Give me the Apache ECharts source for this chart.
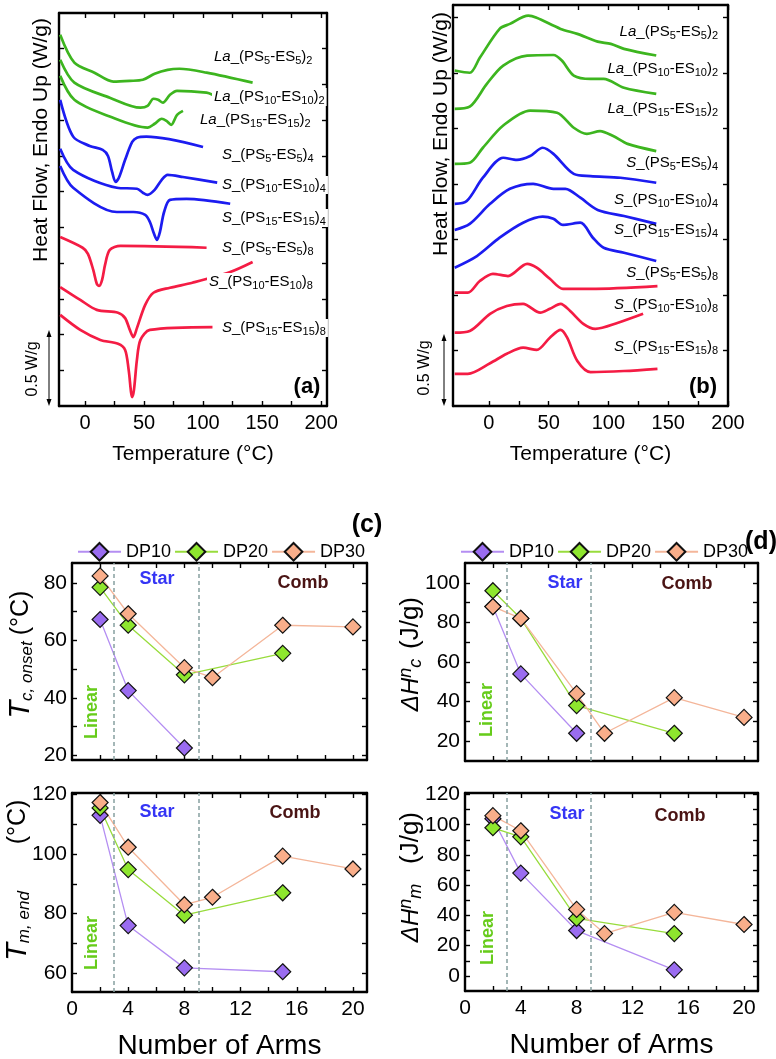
<!DOCTYPE html>
<html>
<head>
<meta charset="utf-8">
<script src="https://cdn.jsdelivr.net/npm/echarts@6/dist/echarts.min.js"></script>
<style>
html, body { margin: 0; padding: 0; background: #fff; }
#chart { width: 776px; height: 1059px; }
</style>
</head>
<body>
<div id="chart"></div>
<script>
// ---- DSC curves, panel (a) cooling: [T (°C), heat flow offset (tick units)]
var aLa5 = [[-21,10.39],[-9,9.61],[8,9.33],[24,9.08],[38,9.10],[49,9.13],[59,9.30],[70,9.41],[80,9.44],[103,9.33],[142,9.05]];
var aLa10 = [[-21,9.69],[-9,9.05],[21,8.63],[47,8.35],[53,8.40],[58,8.60],[62,8.57],[66,8.49],[72,8.71],[78,8.82],[103,8.77],[108,8.71]];
var aLa15 = [[-21,9.24],[-9,8.57],[21,8.10],[53,7.79],[59,7.90],[65,8.04],[69,7.98],[73,7.87],[78,8.15],[83,8.26]];
var aS5x4 = [[-21,8.57],[-10,7.54],[4,7.28],[15,7.17],[19.5,7.0],[23,6.55],[26,6.27],[29,6.41],[34,6.89],[40,7.39],[44,7.51],[52,7.54],[100,7.25]];
var aS10x4 = [[-21,7.20],[-10,6.61],[27,6.11],[44,6.08],[49,5.97],[53,5.91],[59,6.05],[65,6.33],[70,6.47],[83,6.41],[112,6.25]];
var aS15x4 = [[-21,6.72],[-10,6.11],[27,5.43],[41,5.43],[51,5.35],[55,5.15],[58.5,4.82],[61,4.65],[63.5,4.87],[67,5.43],[72,5.77],[86,5.80],[123,5.66]];
var aS5x8 = [[-21,4.73],[-2,4.43],[2.5,4.26],[7,3.81],[10,3.42],[12,3.36],[14.5,3.53],[17,3.95],[21,4.37],[30,4.48],[103,4.43]];
var aS10x8 = [[-21,3.33],[-4,2.97],[10,2.69],[28,2.61],[34,2.46],[38,2.13],[41,1.93],[44,2.18],[51,2.83],[58,3.17],[72,3.31],[91,3.45],[123,3.75],[142,4.03]];
var aS15x8 = [[-21,2.55],[-4,2.13],[13,1.85],[28,1.74],[34,1.57],[37,1.01],[40,0.25],[41.5,0.45],[44,1.29],[47,1.85],[55,2.13],[108,2.21]];

// ---- DSC curves, panel (b) heating
var bLa5 = [[-28.6,6.04],[-16,6.0],[-7.6,6.27],[9,6.79],[17.6,6.88],[33,7.03],[40,6.99],[60,6.79],[74,6.70],[91,6.56],[102,6.52],[113,6.43],[140,6.31]];
var bLa10 = [[-28.6,5.35],[-16,5.39],[-1.7,5.80],[12,6.13],[32,6.31],[54,6.32],[61,6.22],[71,5.95],[85,5.89],[96,5.89],[113,5.73],[140,5.62]];
var bLa15 = [[-28.6,4.36],[-16,4.38],[-5,4.65],[12,5.05],[34.5,5.32],[57,5.28],[71,5.01],[82,4.90],[93,4.95],[104,4.86],[116,4.72],[140,4.59]];
var bS5x4 = [[-28.6,3.64],[-18.5,3.69],[-5,4.11],[12,4.47],[23.5,4.43],[34.5,4.50],[45,4.65],[54,4.54],[71,4.18],[85,4.14],[110,4.11],[140,4.02]];
var bS10x4 = [[-28.6,3.17],[-16,3.28],[1,3.64],[17.6,3.91],[37,4.0],[54,3.91],[64,3.91],[76.5,3.75],[91,3.53],[113,3.42],[140,3.28]];
var bS15x4 = [[-28.6,2.49],[-10,2.70],[9,3.03],[28.6,3.30],[45,3.41],[54,3.37],[62,3.26],[76.5,3.30],[87,3.03],[96,2.85],[113,2.76],[140,2.61]];
var bS5x8 = [[-28.6,2.04],[-17.6,2.04],[-7.6,2.25],[3.4,2.38],[16,2.34],[32,2.56],[40,2.49],[51,2.29],[62,2.11],[85,2.11],[141,2.16]];
var bS10x8 = [[-28.6,1.32],[-16,1.35],[1,1.66],[15,1.80],[28.6,1.84],[43,1.68],[51,1.75],[60,1.84],[68,1.71],[79,1.48],[89,1.39],[108,1.50],[129,1.66]];
var bS15x8 = [[-28.6,0.58],[-17.6,0.58],[1,0.77],[15,0.94],[28.6,1.05],[40,1.01],[51,1.23],[60,1.37],[65.5,1.23],[74,0.81],[85,0.61],[113,0.63],[141,0.67]];

// sample names: [prefix, DP of each block, number of arms]
var sampleNames = [['La','5','2'],['La','10','2'],['La','15','2'],['S','5','4'],['S','10','4'],['S','15','4'],['S','5','8'],['S','10','8'],['S','15','8']];

// ---- panels (c) and (d)
var arms3 = [2, 4, 8];
var arms4 = [2, 4, 8, 15];
var arms6 = [2, 4, 8, 10, 15, 20];

var tcDP10 = [67.3, 42.5, 22.5];
var tcDP20 = [78.5, 65.3, 48.0, 55.5];
var tcDP30 = [82.5, 69.3, 50.5, 47.0, 65.3, 64.7];
var tmDP10 = [113.0, 76.0, 61.8, 60.5];
var tmDP20 = [115.5, 94.8, 79.5, 87.0];
var tmDP30 = [117.3, 102.3, 83.0, 85.5, 99.3, 95.0];
var hcDP10 = [88, 54, 24];
var hcDP20 = [96, 82, 38, 24];
var hcDP30 = [88, 82, 44, 24, 42, 32];
var hmDP10 = [104, 68, 30, 4];
var hmDP20 = [98, 92, 38, 28];
var hmDP30 = [106, 96, 44, 28, 42, 34];

var tempTicks = [0, 25, 50, 75, 100, 125, 150, 175, 200];
var tempLabels = [0, 50, 100, 150, 200];
var armTicks = [2, 4, 6, 8, 10, 12, 14, 16, 18, 20];
var armLabels = [0, 4, 8, 12, 16, 20];

var FONT = '"Liberation Sans", Arial, sans-serif';
var GREEN = '#3db51f', BLUE = '#1c1cf0', RED = '#f41c44';
var C10 = ['#9a6cf0', '#b48ef2'], C20 = ['#8ee62e', '#98dc3c'], C30 = ['#f9ae8a', '#f4b69a'];

var chart = echarts.init(document.getElementById('chart'));

var grids = [], xAxes = [], yAxes = [], series = [], graphics = [];

function addGrid(box) {
    grids.push(Object.assign({show: false, containLabel: false, outerBoundsMode: 'none'}, box));
    return grids.length - 1;
}

function axis(gi, pos, min, max, ticks, labels, fs, margin) {
    return {
        type: 'value', gridIndex: gi, position: pos, min: min, max: max,
        axisLine: {show: true, onZero: false, lineStyle: {color: '#000', width: 2.4}},
        axisTick: {show: true, inside: true, length: 5, customValues: ticks, lineStyle: {color: '#000', width: 1.4}},
        axisLabel: {show: !!labels, customValues: labels || undefined, color: '#000', fontSize: fs, fontFamily: FONT, margin: margin},
        splitLine: {show: false}
    };
}

// box with ticks on all 4 sides
function frame(gi, xr, yr, xt, xl, yt, yl, fs, xm, ym) {
    xAxes.push(axis(gi, 'bottom', xr[0], xr[1], xt, xl, fs, xm));
    var xi = xAxes.length - 1;
    xAxes.push(axis(gi, 'top', xr[0], xr[1], xt, null, fs, xm));
    yAxes.push(axis(gi, 'left', yr[0], yr[1], yt, yl, fs, ym));
    var yi = yAxes.length - 1;
    yAxes.push(axis(gi, 'right', yr[0], yr[1], yt, null, fs, ym));
    return {x: xi, y: yi};
}

function xName(ax, text, gap, fs) {
    Object.assign(xAxes[ax.x], {
        name: text, nameLocation: 'middle', nameGap: gap,
        nameTextStyle: {color: '#000', fontSize: fs, fontFamily: FONT}
    });
}

function curve(ax, data, color) {
    series.push({
        type: 'line', xAxisIndex: ax.x, yAxisIndex: ax.y, data: data,
        symbol: 'none', smooth: 0.3, silent: true,
        lineStyle: {color: color, width: 2.7}
    });
}

function zip(xs, ys) {
    return ys.map(function(v, i) { return [xs[i], v]; });
}

function dp(ax, name, arms, vals, col, guides) {
    var s = {
        type: 'line', name: name, xAxisIndex: ax.x, yAxisIndex: ax.y,
        data: zip(arms, vals), symbol: 'diamond', symbolSize: 16,
        itemStyle: {color: col[0], borderColor: '#111', borderWidth: 1.2},
        lineStyle: {color: col[1], width: 1.3}
    };
    if (guides) {
        s.markLine = {
            silent: true, symbol: 'none', label: {show: false},
            lineStyle: {type: [4, 3], color: '#86a0a0', width: 1.5},
            data: [{xAxis: 3}, {xAxis: 9}]
        };
    }
    series.push(s);
}

function text(x, y, str, style, rot) {
    var st = Object.assign({
        text: str, fill: '#000', fontFamily: FONT, fontSize: 15,
        align: 'center', verticalAlign: 'middle', textAlign: 'center', textVerticalAlign: 'middle'
    }, style || {});
    graphics.push({type: 'text', x: x, y: y, rotation: rot || 0, z: 100, silent: true, style: st});
}

function sampleLabel(x, y, s, align, bg) {
    var str = '{it|' + s[0] + '}_(PS{sub|' + s[1] + '}-ES{sub|' + s[1] + '}){sub|' + s[2] + '}';
    text(x, y, str, {
        fontSize: 15, lineHeight: 18, align: align, textAlign: align,
        backgroundColor: bg ? '#fff' : undefined, padding: bg ? [0, 2] : 0,
        rich: {
            it: {fontFamily: FONT, fontSize: 15, fontStyle: 'italic', lineHeight: 18},
            sub: {fontFamily: FONT, fontSize: 11, lineHeight: 7, verticalAlign: 'bottom'}
        }
    });
}

function scaleBar(x, y1, y2, tx, ty) {
    graphics.push({type: 'line', z: 100, silent: true, shape: {x1: x, y1: y1 + 3, x2: x, y2: y2 - 3}, style: {stroke: '#000', lineWidth: 1}});
    graphics.push({type: 'polygon', z: 100, silent: true, shape: {points: [[x, y1], [x - 2.5, y1 + 7], [x + 2.5, y1 + 7]]}, style: {fill: '#000'}});
    graphics.push({type: 'polygon', z: 100, silent: true, shape: {points: [[x, y2], [x - 2.5, y2 - 7], [x + 2.5, y2 - 7]]}, style: {fill: '#000'}});
    text(tx, ty, '0.5 W/g', {fontSize: 16}, Math.PI / 2);
}

// ---------- (a) ----------
var pa = frame(addGrid({left: 59, top: 13, width: 268, height: 393}), [-22, 205], [0, 11],
    tempTicks, tempLabels, [1, 2, 3, 4, 5, 6, 7, 8, 9, 10], null, 20, 7, 0);
xName(pa, 'Temperature (°C)', 38, 21);
[aLa5, aLa10, aLa15].forEach(function(d) { curve(pa, d, GREEN); });
[aS5x4, aS10x4, aS15x4].forEach(function(d) { curve(pa, d, BLUE); });
[aS5x8, aS10x8, aS15x8].forEach(function(d) { curve(pa, d, RED); });

// ---------- (b) ----------
var pb = frame(addGrid({left: 453, top: 5, width: 275, height: 401}), [-30, 200], [0, 7.22],
    tempTicks, tempLabels, [1, 2, 3, 4, 5, 6, 7], null, 20, 7, 0);
xName(pb, 'Temperature (°C)', 38, 21);
[bLa5, bLa10, bLa15].forEach(function(d) { curve(pb, d, GREEN); });
[bS5x4, bS10x4, bS15x4].forEach(function(d) { curve(pb, d, BLUE); });
[bS5x8, bS10x8, bS15x8].forEach(function(d) { curve(pb, d, RED); });

var aPos = [[212, 57], [212, 97], [198, 120], [220, 155], [220, 185], [220, 218], [220, 248], [207, 282], [220, 328]];
var bPos = [[718, 32], [718, 69], [718, 109], [718, 163], [718, 200], [718, 230], [718, 273], [718, 305], [718, 347]];
sampleNames.forEach(function(s, i) {
    sampleLabel(aPos[i][0], aPos[i][1], s, 'left', true);
    sampleLabel(bPos[i][0], bPos[i][1], s, 'right', false);
});

text(41, 140, 'Heat Flow, Endo Up (W/g)', {fontSize: 21}, Math.PI / 2);
text(441, 134, 'Heat Flow, Endo Up (W/g)', {fontSize: 21}, Math.PI / 2);
scaleBar(49, 330, 406, 33, 369);
scaleBar(444, 334, 406, 425, 368);
text(307, 387, '(a)', {fontSize: 22, fontWeight: 'bold'});
text(703, 387, '(b)', {fontSize: 22, fontWeight: 'bold'});

// ---------- (c) and (d) ----------
var pcTop = frame(addGrid({left: 72, top: 563, width: 295, height: 197}), [0, 21], [18.3, 87],
    armTicks, null, [20, 30, 40, 50, 60, 70, 80], [20, 40, 60, 80], 21, 7, 5);
var pcBot = frame(addGrid({left: 72, top: 793, width: 295, height: 199}), [0, 21], [53.7, 120.5],
    armTicks, armLabels, [60, 70, 80, 90, 100, 110, 120], [60, 80, 100, 120], 21, 7, 5);
var pdTop = frame(addGrid({left: 465, top: 563, width: 293, height: 198}), [0, 21], [10, 110],
    armTicks, null, [20, 30, 40, 50, 60, 70, 80, 90, 100], [20, 40, 60, 80, 100], 21, 7, 5);
var pdBot = frame(addGrid({left: 465, top: 793, width: 293, height: 198}), [0, 21], [-10, 121],
    armTicks, armLabels, [0, 10, 20, 30, 40, 50, 60, 70, 80, 90, 100, 110, 120], [0, 20, 40, 60, 80, 100, 120], 21, 7, 5);
xName(pcBot, 'Number of Arms', 40, 28);
xName(pdBot, 'Number of Arms', 40, 28);

dp(pcTop, 'DP10', arms3, tcDP10, C10, true);
dp(pcTop, 'DP20', arms4, tcDP20, C20);
dp(pcTop, 'DP30', arms6, tcDP30, C30);
dp(pcBot, 'DP10', arms4, tmDP10, C10, true);
dp(pcBot, 'DP20', arms4, tmDP20, C20);
dp(pcBot, 'DP30', arms6, tmDP30, C30);
dp(pdTop, 'DP10', arms3, hcDP10, C10, true);
dp(pdTop, 'DP20', arms4, hcDP20, C20);
dp(pdTop, 'DP30', arms6, hcDP30, C30);
dp(pdBot, 'DP10', arms4, hmDP10, C10, true);
dp(pdBot, 'DP20', arms4, hmDP20, C20);
dp(pdBot, 'DP30', arms6, hmDP30, C30);

// region tags
var starStyle = {fontSize: 18, fontWeight: 'bold', fill: '#3535f5'};
var combStyle = {fontSize: 18, fontWeight: 'bold', fill: '#4a1414'};
var linStyle = {fontSize: 18, fontWeight: 'bold', fill: '#66cc1a'};
[[157, 579, 303, 583, 92, 712], [157, 812, 295, 813, 92, 943], [565, 583, 687, 584, 487, 710], [567, 814, 680, 816, 488, 938]].forEach(function(p) {
    text(p[0], p[1], 'Star', starStyle);
    text(p[2], p[3], 'Comb', combStyle);
    text(p[4], p[5], 'Linear', linStyle, Math.PI / 2);
});

// y titles of (c) and (d)
var tRich = {
    T: {fontFamily: FONT, fontSize: 29, fontStyle: 'italic', lineHeight: 30},
    s: {fontFamily: FONT, fontSize: 17, fontStyle: 'italic', lineHeight: 10, verticalAlign: 'bottom'}
};
var hRich = {
    D: {fontFamily: FONT, fontSize: 24, fontStyle: 'italic', lineHeight: 28},
    p: {fontFamily: FONT, fontSize: 18, fontStyle: 'italic', lineHeight: 10, verticalAlign: 'top'},
    s: {fontFamily: FONT, fontSize: 18, fontStyle: 'italic', lineHeight: 8, verticalAlign: 'bottom'}
};
text(21, 680, '{T|T}{s|c, onset}', {fontSize: 25, lineHeight: 30, rich: tRich}, Math.PI / 2);
text(21, 613, '(°C)', {fontSize: 25}, Math.PI / 2);
text(18, 926, '{T|T}{s|m, end}', {fontSize: 25, lineHeight: 30, rich: tRich}, Math.PI / 2);
text(18, 822, '(°C)', {fontSize: 25}, Math.PI / 2);
text(411, 685, '{D|ΔH}{p|n}{s|c}', {fontSize: 24, lineHeight: 28, rich: hRich}, Math.PI / 2);
text(411, 623, '(J/g)', {fontSize: 26}, Math.PI / 2);
text(411, 913, '{D|ΔH}{p|n}{s|m}', {fontSize: 24, lineHeight: 28, rich: hRich}, Math.PI / 2);
text(411, 838, '(J/g)', {fontSize: 26}, Math.PI / 2);

text(367, 525, '(c)', {fontSize: 25, fontWeight: 'bold'});
text(761, 542, '(d)', {fontSize: 25, fontWeight: 'bold'});

var legendBase = {
    top: 537, itemWidth: 43, itemHeight: 22, itemGap: 3, selectedMode: false,
    data: ['DP10', 'DP20', 'DP30'],
    textStyle: {fontSize: 18, color: '#000', fontFamily: FONT}
};

option = {
    animation: false,
    backgroundColor: '#fff',
    grid: grids,
    xAxis: xAxes,
    yAxis: yAxes,
    legend: [Object.assign({left: 72}, legendBase), Object.assign({left: 455}, legendBase)],
    graphic: {elements: graphics},
    series: series
};

chart.setOption(option);
</script>
</body>
</html>
